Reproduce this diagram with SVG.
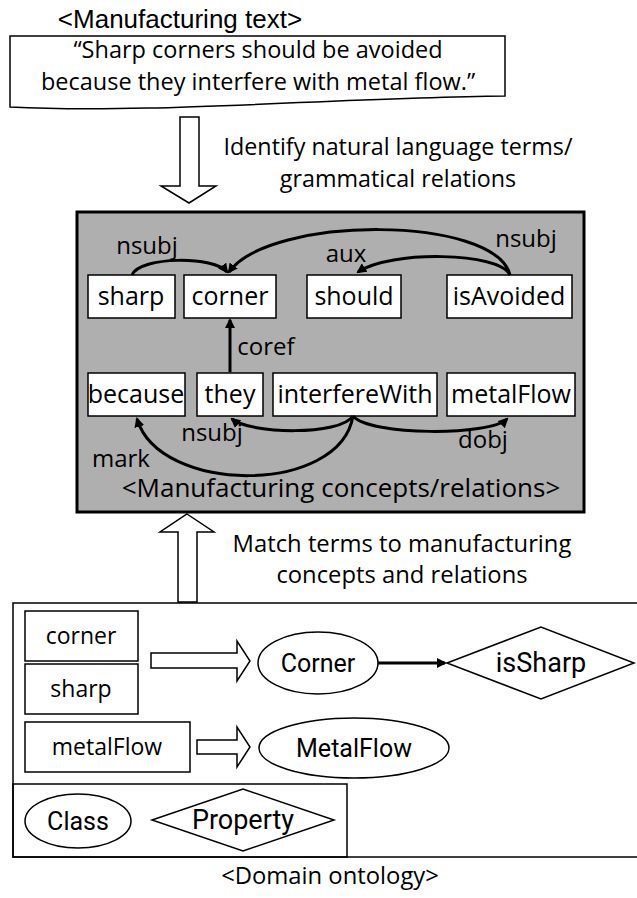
<svg xmlns="http://www.w3.org/2000/svg" width="637" height="898" viewBox="0 0 637 898">
<style>
.t{font-family:"Open Sans","Liberation Sans",sans-serif;fill:#000;text-anchor:middle}
.ar{font-family:"Liberation Sans",Arial,sans-serif;fill:#000;text-anchor:middle}
.cn{font-family:Roboto,"Liberation Sans",sans-serif;fill:#000;text-anchor:middle}
.box{fill:#fff;stroke:#000;stroke-width:1.5}
.hol{fill:#fff;stroke:#000;stroke-width:1.5;stroke-linejoin:miter}
.arc{fill:none;stroke:#000;stroke-width:3;marker-end:url(#ah)}
.lb{font-size:24px}
.nd{font-size:25px}
</style>
<defs>
<marker id="ah" viewBox="0 0 10 10" refX="8" refY="5" markerWidth="10" markerHeight="10" markerUnits="userSpaceOnUse" orient="auto">
<path d="M0,0 L10,5 L0,10 z" fill="#000"/>
</marker>
</defs>
<rect width="637" height="898" fill="#fff"/>

<g id="manufacturing-text">
<text class="ar" x="180" y="28" font-size="26">&lt;Manufacturing text&gt;</text>
<path class="box" d="M10,36 L505,36 L505,96 C330,98 150,114 10,107 Z"/>
<text class="t" x="258" y="58" font-size="23.5">“Sharp corners should be avoided</text>
<text class="t" x="258" y="90" font-size="23.5">because they interfere with metal flow.”</text>
</g>

<g id="identify-arrow">
<polygon class="hol" points="180,117 199,117 199,186 216,186 189,203 161,186 180,186"/>
<text class="t" x="398" y="155" font-size="23.3">Identify natural language terms/</text>
<text class="t" x="398" y="187" font-size="23.3">grammatical relations</text>
</g>

<g id="concepts-panel">
<rect x="77" y="212" width="507" height="300" fill="#afafaf" stroke="#000" stroke-width="3"/>
<text class="t" x="341" y="497" font-size="26">&lt;Manufacturing concepts/relations&gt;</text>
</g>

<g id="n-sharp"><rect class="box" x="88" y="275" width="87" height="43"/><text class="t nd" x="131" y="305">sharp</text></g>
<g id="n-corner"><rect class="box" x="184" y="275" width="92" height="43"/><text class="t nd" x="230" y="305">corner</text></g>
<g id="n-should"><rect class="box" x="307" y="275" width="94" height="43"/><text class="t nd" x="354" y="305">should</text></g>
<g id="n-isAvoided"><rect class="box" x="447" y="275" width="125" height="43"/><text class="t nd" x="509" y="305">isAvoided</text></g>
<g id="n-because"><rect class="box" x="88" y="373" width="97" height="43"/><text class="t nd" x="136" y="403">because</text></g>
<g id="n-they"><rect class="box" x="197" y="373" width="66" height="43"/><text class="t nd" x="230" y="403">they</text></g>
<g id="n-interfereWith"><rect class="box" x="273" y="373" width="164" height="43"/><text class="t nd" x="355" y="403">interfereWith</text></g>
<g id="n-metalFlow"><rect class="box" x="447" y="373" width="128" height="43"/><text class="t nd" x="511" y="403">metalFlow</text></g>

<g id="connectors">
<path class="arc" d="M132,275 C140,256 215,256 227,272"/>
<path class="arc" d="M510,275 C495,215 270,215 229,272"/>
<path class="arc" d="M510,275 C500,252 390,250 358,272"/>
<path class="arc" d="M230,372 L230,320"/>
<path class="arc" d="M353,416 C340,436 250,434 232,419"/>
<path class="arc" d="M353,416 C370,436 490,436 507,419"/>
<path class="arc" d="M353,416 C340,495 160,495 137,419"/>
<path class="arc" d="M378,663 L445,663"/>
</g>
<g id="edge-labels">
<text class="t lb" x="147" y="254">nsubj</text>
<text class="t lb" x="346" y="262">aux</text>
<text class="t lb" x="526" y="247">nsubj</text>
<text class="t lb" x="266" y="355">coref</text>
<text class="t lb" x="212" y="441">nsubj</text>
<text class="t lb" x="483" y="448">dobj</text>
<text class="t lb" x="121" y="467">mark</text>
</g>

<g id="match-arrow">
<polygon class="hol" points="187,514 214,532 197,532 197,602 178,602 178,532 160,532"/>
<text class="t" x="402" y="552" font-size="23.8">Match terms to manufacturing</text>
<text class="t" x="402" y="583" font-size="23.8">concepts and relations</text>
</g>

<g id="ontology">
<rect x="13" y="603" width="630" height="254" fill="none" stroke="#000" stroke-width="1.5"/>
<text class="t" x="330" y="884" font-size="23.8">&lt;Domain ontology&gt;</text>
</g>
<g id="o-corner"><rect class="box" x="25" y="611" width="113" height="50"/><text class="t" x="81" y="644" font-size="23">corner</text></g>
<g id="o-sharp"><rect class="box" x="25" y="664" width="113" height="50"/><text class="t" x="81" y="697" font-size="23">sharp</text></g>
<g id="o-metalFlow"><rect class="box" x="25" y="722" width="165" height="50"/><text class="t" x="107" y="755" font-size="23">metalFlow</text></g>
<g id="o-arrow1"><polygon class="hol" points="151,653 237,653 237,641 250,661 237,681 237,668 151,668"/></g>
<g id="o-arrow2"><polygon class="hol" points="197,740 237,740 237,727 250,747 237,767 237,754 197,754"/></g>
<g id="o-Corner"><ellipse class="box" cx="318" cy="663" rx="60" ry="31"/><text class="cn" x="318" y="672" font-size="25">Corner</text></g>
<g id="o-isSharp"><polygon class="box" points="447,663 541,627 634,663 541,699"/><text class="cn" x="541" y="672" font-size="27">isSharp</text></g>
<g id="o-MetalFlow"><ellipse class="box" cx="354" cy="748" rx="95" ry="30"/><text class="cn" x="354" y="757" font-size="25">MetalFlow</text></g>

<g id="legend">
<rect x="13" y="784" width="334" height="73" fill="none" stroke="#000" stroke-width="1.5"/>
</g>
<g id="l-Class"><ellipse class="box" cx="78" cy="821" rx="53" ry="27"/><text class="cn" x="78" y="830" font-size="25">Class</text></g>
<g id="l-Property"><polygon class="box" points="152,820 243,789 334,820 243,851"/><text class="cn" x="243" y="829" font-size="27">Property</text></g>
</svg>
